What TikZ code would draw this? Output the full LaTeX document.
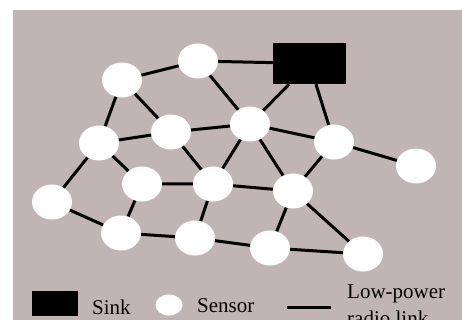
\documentclass[tikz,border=0pt]{standalone}
\usepackage{fontspec}
\setmainfont{Liberation Serif}
\usetikzlibrary{shapes.geometric}
\definecolor{field}{RGB}{192,180,181}
\tikzset{
  sensor/.style={ellipse,fill=white,inner sep=0pt,minimum width=40pt,minimum height=35pt},
  sinkbox/.style={rectangle,fill=black,inner sep=0pt,minimum width=73pt,minimum height=41pt},
  link/.style={line width=3pt,black},
  legend/.style={inner sep=0pt,anchor=base west,font=\fontsize{21}{24}\selectfont}
}
\begin{document}
\begin{tikzpicture}[x=1pt,y=-1pt]
  \clip (0,0) rectangle (462,320);
  \fill[white] (0,0) rectangle (462,320);
  \fill[field] (13,10) rectangle (462,320);
  % sink and sensors
  \node[sinkbox] (sink) at (309.5,63.5) {};
  \node[sensor] (1) at (122,80) {};
  \node[sensor] (2) at (198,61) {};
  \node[sensor] (3) at (99,143) {};
  \node[sensor] (4) at (171,132) {};
  \node[sensor] (5) at (250,124) {};
  \node[sensor] (6) at (334,142) {};
  \node[sensor] (7) at (416,166) {};
  \node[sensor] (8) at (52,202) {};
  \node[sensor] (9) at (142,184) {};
  \node[sensor] (10) at (213,184) {};
  \node[sensor] (11) at (293,191) {};
  \node[sensor] (12) at (121,233) {};
  \node[sensor] (13) at (195,238) {};
  \node[sensor] (14) at (270,248) {};
  \node[sensor] (15) at (363,254) {};
  % radio links
  \draw[link] (1) -- (2) -- (sink);
  \draw[link] (1) -- (3) -- (4) -- (5) -- (6) -- (7);
  \draw[link] (1) -- (4);
  \draw[link] (2) -- (5) -- (sink) -- (6);
  \draw[link] (3) -- (8) -- (12) -- (13) -- (14) -- (15);
  \draw[link] (3) -- (9) -- (10) -- (11) -- (15);
  \draw[link] (4) -- (10) -- (5) -- (11) -- (6);
  \draw[link] (9) -- (12);
  \draw[link] (10) -- (13);
  \draw[link] (11) -- (14);
  % legend
  \node[rectangle,fill=black,inner sep=0pt,minimum width=46pt,minimum height=25pt] (keysink) at (55,303.5) {};
  \node[legend] (sinktext) at (92,314) {Sink};
  \node[ellipse,fill=white,inner sep=0pt,minimum width=27pt,minimum height=21pt] (keysensor) at (169,305) {};
  \node[legend] (sensortext) at (197,312) {Sensor};
  \coordinate (linkstart) at (287,307);
  \coordinate (linkend) at (331,307);
  \draw[link] (linkstart) -- (linkend);
  \node[legend] (linktext) at (347,298) {Low-power};
  \node[legend] (linktext2) at (347,325) {radio link};
\end{tikzpicture}
\end{document}
